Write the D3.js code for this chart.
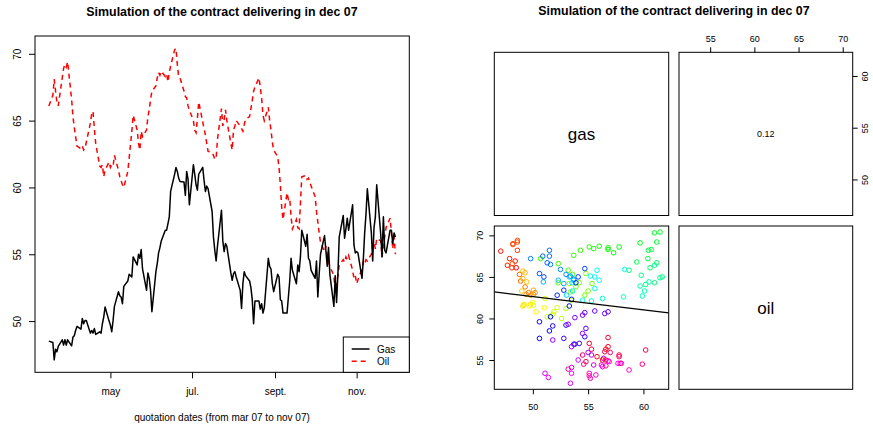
<!DOCTYPE html>
<html>
<head>
<meta charset="utf-8">
<script src="https://cdn.jsdelivr.net/npm/d3@7"></script>
<style>
  body { margin: 0; background: #fff; }
  svg { display: block; font-family: 'Liberation Sans', Arial, Helvetica, sans-serif; }
</style>
</head>
<body>
<svg id="chart" width="873" height="430"></svg>
<script>
// first quotation day, then one value per business day
const startDate = '2007-03-16'

const gas = [
  48.5,
  48.4, 47.1, 47.9, 47.7, 48.1,
  48.6, 48.2, 48.6, 48.2, 48.6,
  48.15, 48.8, 48.9, 49.3, 49.6,
  49.4, 50.2, 49.8, 50.05, 50.05,
  49.1, 49.3, 49.1, 49.45, 49.0,
  49.2, 49.1, 49.8, 50.3, 51.05,
  50.0, 49.7, 49.2, 50.05, 51.1,
  52.2, 51.9, 51.8, 51.3, 52.6,
  53.0, 53.5, 53.4, 53.3, 54.8,
  54.2, 55.0, 54.7, 55.35, 53.9,
  52.3, 53.6, 53.2, 52.3, 50.7,
  53.7, 54.3, 55.1, 55.5, 56.0,
  56.8, 56.8, 57.3, 57.8, 59.7,
  61.0, 61.5, 61.2, 60.7, 60.45,
  60.4, 59.4, 61.2, 60.6, 58.7,
  61.7, 61.0, 60.2, 59.8, 61.0,
  61.5, 60.5, 59.7, 60.1, 59.9,
  58.2, 56.3, 55.3, 54.5, 55.6,
  58.3, 56.0, 55.2, 55.8, 55.6,
  53.6, 53.05, 53.55, 53.7, 53.3,
  52.3, 50.95, 52.8, 53.7, 53.4,
  53.0, 52.5, 51.6, 49.8, 51.5,
  51.5, 50.9, 51.3, 50.6, 51.0,
  54.7, 54.1, 53.9, 52.8, 52.2,
  53.5, 53.3, 51.6, 51.5, 50.6,
  50.6, 51.8, 53.0, 54.7, 53.8,
  52.8, 54.2, 53.7, 54.8, 56.8,
  55.6, 56.5, 54.7, 54.5, 53.8,
  53.2, 54.5, 51.8, 53.5, 55.0,
  56.4, 55.3, 54.1, 55.5, 53.5,
  51.1, 53.4, 51.4, 53.5, 56.3,
  57.9, 56.2, 56.9, 57.7, 56.8,
  58.7, 55.7, 55.1, 55.2, 55.1,
  53.2, 54.6, 56.6, 58.0, 59.9,
  56.6, 54.5, 57.0, 57.8, 60.2,
  56.5, 54.8, 57.8, 55.3, 55.1,
  56.8, 56.8, 55.8, 56.6, 56.3
]

const oil = [
  66.1,
  66.9, 68.1, 67.2, 66.4, 66.1,
  68.2, 68.9, 69.2, 69.0, 69.4,
  66.6, 65.3, 64.5, 63.8, 63.1,
  62.9, 63.1, 62.8, 62.9, 63.4,
  64.8, 65.5, 65.7, 64.4, 63.3,
  61.6, 61.5, 61.7, 60.8, 61.3,
  61.9, 61.5, 61.7, 61.6, 62.4,
  61.3, 60.8, 60.5, 60.2, 60.0,
  61.2, 62.2, 63.2, 64.2, 65.4,
  64.3, 63.3, 62.8, 64.2, 63.8,
  64.3, 65.3, 65.8, 66.6, 67.2,
  67.6, 68.2, 68.6, 68.4, 68.7,
  68.3, 68.5, 67.9, 68.6, 69.1,
  70.3, 70.4, 69.2, 68.3, 68.2,
  67.2, 66.8, 66.7, 66.1, 65.8,
  65.0, 64.3, 64.1, 65.2, 66.4,
  64.9, 64.4, 63.9, 63.3, 62.7,
  62.6, 62.4, 62.1, 62.2, 63.6,
  65.9, 64.6, 65.1, 65.8, 65.0,
  63.3, 62.8, 64.3, 64.6, 65.0,
  64.6, 64.4, 64.2, 64.7, 65.1,
  65.3, 65.9, 66.5, 67.2, 67.5,
  68.2, 67.5, 66.7, 65.4, 65.0,
  66.0, 65.0, 64.3, 63.4, 62.8,
  62.3, 61.5, 60.2, 58.5, 57.6,
  59.6, 59.1, 59.2, 57.8, 56.9,
  57.6, 57.0, 56.9, 58.8, 60.8,
  60.9, 60.6, 60.7, 60.4, 60.1,
  59.3, 58.2, 57.4, 56.6, 55.9,
  55.2, 55.6, 55.0, 54.4, 54.1,
  53.4, 52.2, 52.9, 53.4, 54.2,
  54.6, 54.4, 54.8, 54.6, 54.9,
  53.8, 53.2, 53.4, 52.8, 53.1,
  53.9, 54.5, 54.3, 54.6, 54.5,
  55.0, 55.6, 55.9, 55.4, 56.2,
  56.0, 54.8, 55.6, 56.3, 57.0,
  57.7, 56.6, 55.4, 56.3, 55.0
]

const monthTicks = ['2007-05-01', '2007-07-01', '2007-09-01', '2007-11-01']
const monthLabels = ['may', 'jul.', 'sept.', 'nov.']
const priceTicks = [50, 55, 60, 65, 70]
const gasTicks = [50, 55, 60]
const oilTicks = [55, 60, 65, 70]
const seriesNames = ['Gas', 'Oil']
const panelNames = ['gas', 'oil']
const correlationText = '0.12'
// fitted line oil = a + b * gas
const fitLine = [70.64, -0.16]
const plotTitle = 'Simulation of the contract delivering in dec 07'
const xTitle = 'quotation dates (from mar 07 to nov 07)'

const parseDate = d3.timeParse('%Y-%m-%d')
const svg = d3.select('#chart')

// R style axis range: data range plus 4% on each side
function rRange (values) {
  const [lo, hi] = d3.extent(values)
  const pad = (hi - lo) * 0.04
  return [lo - pad, hi + pad]
}

function businessDays (start, n) {
  const days = []
  let d = parseDate(start)
  while (days.length < n) {
    if (d.getDay() !== 0 && d.getDay() !== 6) days.push(d)
    d = d3.timeDay.offset(d, 1)
  }
  return days
}

function rotateLabels (g, offset) {
  g.selectAll('.tick text')
    .attr('x', 0)
    .attr('y', 0)
    .attr('dy', null)
    .attr('text-anchor', 'middle')
    .attr('transform', `translate(${offset},0) rotate(-90)`)
}

function styleAxis (g, size) {
  g.select('.domain').remove()
  g.selectAll('.tick line').attr('stroke', '#000')
  g.selectAll('.tick text').attr('fill', '#000').style('font-size', size + 'px')
}

function drawSeriesPlot (dates) {
  const box = { left: 35, right: 409.3, top: 36, bottom: 372.3 }
  const x = d3.scaleTime()
    .domain(rRange(dates.map(d => +d)).map(t => new Date(t)))
    .range([box.left, box.right])
  const y = d3.scaleLinear()
    .domain(rRange(gas.concat(oil)))
    .range([box.bottom, box.top])

  const g = svg.append('g').attr('class', 'series-plot')

  // title
  g.append('text')
    .attr('x', 222)
    .attr('y', 15.5)
    .attr('text-anchor', 'middle')
    .style('font-size', '12.4px')
    .style('font-weight', 'bold')
    .text(plotTitle)

  const line = d3.line()
    .x((d, i) => x(dates[i]))
    .y(d => y(d))

  g.append('path')
    .datum(oil)
    .attr('d', line)
    .attr('fill', 'none')
    .attr('stroke', '#ff0000')
    .attr('stroke-width', 1.5)
    .attr('stroke-dasharray', '5,4')

  g.append('path')
    .datum(gas)
    .attr('d', line)
    .attr('fill', 'none')
    .attr('stroke', '#000')
    .attr('stroke-width', 1.5)
    .attr('stroke-linejoin', 'round')

  // x axis with month ticks
  const xAxis = g.append('g')
    .attr('transform', `translate(0,${box.bottom})`)
    .call(d3.axisBottom(x)
      .tickValues(monthTicks.map(parseDate))
      .tickFormat((d, i) => monthLabels[i])
      .tickSize(6)
      .tickPadding(10))
  styleAxis(xAxis, 10)

  const yAxis = g.append('g')
    .attr('transform', `translate(${box.left},0)`)
    .call(d3.axisLeft(y).tickValues(priceTicks).tickSize(6))
  styleAxis(yAxis, 10)
  rotateLabels(yAxis, -14)

  g.append('text')
    .attr('x', 222)
    .attr('y', 421)
    .attr('text-anchor', 'middle')
    .style('font-size', '10px')
    .text(xTitle)

  // border
  g.append('rect')
    .attr('x', box.left)
    .attr('y', box.top)
    .attr('width', box.right - box.left)
    .attr('height', box.bottom - box.top)
    .attr('fill', 'none')
    .attr('stroke', '#000')

  // legend
  const legend = g.append('g').attr('class', 'legend')
  legend.append('rect')
    .attr('x', 343.3)
    .attr('y', 337)
    .attr('width', box.right - 343.3)
    .attr('height', box.bottom - 337)
    .attr('fill', '#fff')
    .attr('stroke', '#000')
  const styles = [{ color: '#000', dash: null }, { color: '#ff0000', dash: '5,4' }]
  seriesNames.forEach((name, i) => {
    const ly = 349 + i * 12.3
    legend.append('line')
      .attr('x1', 351.7)
      .attr('x2', 369.5)
      .attr('y1', ly)
      .attr('y2', ly)
      .attr('stroke', styles[i].color)
      .attr('stroke-width', 1.5)
      .attr('stroke-dasharray', styles[i].dash)
    legend.append('text')
      .attr('x', 377)
      .attr('y', ly + 3.6)
      .style('font-size', '10px')
      .text(name)
  })
}

function drawPairs () {
  const cols = [[494.3, 668.7], [679, 852.7]]
  const rows = [[52.3, 215.5], [226, 389.3]]
  const gasRange = rRange(gas)
  const oilRange = rRange(oil)

  const g = svg.append('g').attr('class', 'pairs-plot')

  g.append('text')
    .attr('x', 674)
    .attr('y', 14.5)
    .attr('text-anchor', 'middle')
    .style('font-size', '12.4px')
    .style('font-weight', 'bold')
    .text(plotTitle)

  // scatter: gas on x, oil on y (lower left)
  const sx = d3.scaleLinear().domain(gasRange).range(cols[0])
  const sy = d3.scaleLinear().domain(oilRange).range([rows[1][1], rows[1][0]])
  // upper right: oil on x, gas on y
  const ux = d3.scaleLinear().domain(oilRange).range(cols[1])
  const uy = d3.scaleLinear().domain(gasRange).range([rows[0][1], rows[0][0]])

  g.append('clipPath')
    .attr('id', 'scatter-clip')
    .append('rect')
    .attr('x', cols[0][0])
    .attr('y', rows[1][0])
    .attr('width', cols[0][1] - cols[0][0])
    .attr('height', rows[1][1] - rows[1][0])

  const n = gas.length
  g.append('g')
    .selectAll('circle')
    .data(gas)
    .enter()
    .append('circle')
    .attr('cx', d => sx(d))
    .attr('cy', (d, i) => sy(oil[i]))
    .attr('r', 2.3)
    .attr('fill', 'none')
    .attr('stroke-width', 1)
    .attr('stroke', (d, i) => d3.hsl(360 * i / n, 1, 0.5).toString())

  g.append('line')
    .attr('clip-path', 'url(#scatter-clip)')
    .attr('x1', sx(gasRange[0]))
    .attr('x2', sx(gasRange[1]))
    .attr('y1', sy(fitLine[0] + fitLine[1] * gasRange[0]))
    .attr('y2', sy(fitLine[0] + fitLine[1] * gasRange[1]))
    .attr('stroke', '#000')
    .attr('stroke-width', 1.2)

  // panel borders
  rows.forEach(r => {
    cols.forEach(c => {
      g.append('rect')
        .attr('x', c[0])
        .attr('y', r[0])
        .attr('width', c[1] - c[0])
        .attr('height', r[1] - r[0])
        .attr('fill', 'none')
        .attr('stroke', '#000')
    })
  })

  // diagonal names
  panelNames.forEach((name, i) => {
    g.append('text')
      .attr('x', (cols[i][0] + cols[i][1]) / 2)
      .attr('y', (rows[i][0] + rows[i][1]) / 2 + 6)
      .attr('text-anchor', 'middle')
      .style('font-size', '17px')
      .text(name)
  })

  g.append('text')
    .attr('x', (cols[1][0] + cols[1][1]) / 2)
    .attr('y', (rows[0][0] + rows[0][1]) / 2 + 3)
    .attr('text-anchor', 'middle')
    .style('font-size', '9px')
    .text(correlationText)

  // axes
  const top = g.append('g')
    .attr('transform', `translate(0,${rows[0][0]})`)
    .call(d3.axisTop(ux).tickValues(oilTicks).tickSize(5).tickPadding(5))
  styleAxis(top, 9)

  const right = g.append('g')
    .attr('transform', `translate(${cols[1][1]},0)`)
    .call(d3.axisRight(uy).tickValues(gasTicks).tickSize(5))
  styleAxis(right, 9)
  rotateLabels(right, 15)

  const bottom = g.append('g')
    .attr('transform', `translate(0,${rows[1][1]})`)
    .call(d3.axisBottom(sx).tickValues(gasTicks).tickSize(5).tickPadding(9))
  styleAxis(bottom, 9)

  const leftAx = g.append('g')
    .attr('transform', `translate(${cols[0][0]},0)`)
    .call(d3.axisLeft(sy).tickValues(oilTicks).tickSize(5))
  styleAxis(leftAx, 9)
  rotateLabels(leftAx, -11)
}

const dates = businessDays(startDate, gas.length)
drawSeriesPlot(dates)
drawPairs()
</script>
</body>
</html>
